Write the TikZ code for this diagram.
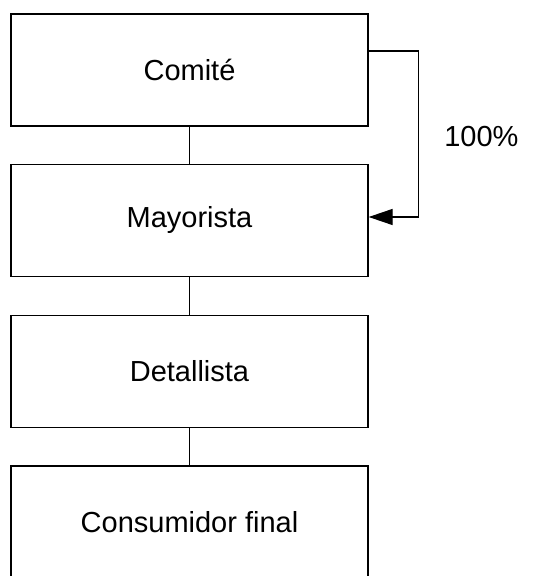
\documentclass[tikz,border=0pt]{standalone}
\usepackage{fontspec}
\setmainfont{Liberation Sans}
\usetikzlibrary{arrows.meta}

\begin{document}
\begin{tikzpicture}[x=0.5pt, y=-0.5pt, line width=0.65pt,
  caja/.style={rectangle, draw, minimum width=178.5pt, minimum height=56pt, inner sep=0pt,
    font=\fontsize{14.5}{17}\selectfont}]
  \useasboundingbox (0,0) rectangle (554,576);

  % Cadena de distribucion
  \node[caja] (comite) at (189.5,70) {Comité};
  \node[caja] (mayorista) at (189.5,220.5) {Mayorista};
  \node[caja] (detallista) at (189.5,371.5) {Detallista};
  \node[caja] (consumidor) at (189.5,522) {Consumidor final};

  % Lineas entre niveles
  \draw (comite) -- (mayorista);
  \draw (mayorista) -- (detallista);
  \draw (detallista) -- (consumidor);

  % Flecha del comite al mayorista
  \draw[-{Triangle[length=12pt, width=8pt]}] ([yshift=9.5pt]comite.east) -- ++(50,0)
    |- node[pos=0.25, anchor=west, inner sep=0pt, xshift=12.5pt, yshift=-1.5pt,
      font=\fontsize{14.5}{17}\selectfont] (porcentaje) {100\%}
    ([yshift=1.75pt]mayorista.east);
\end{tikzpicture}
\end{document}
